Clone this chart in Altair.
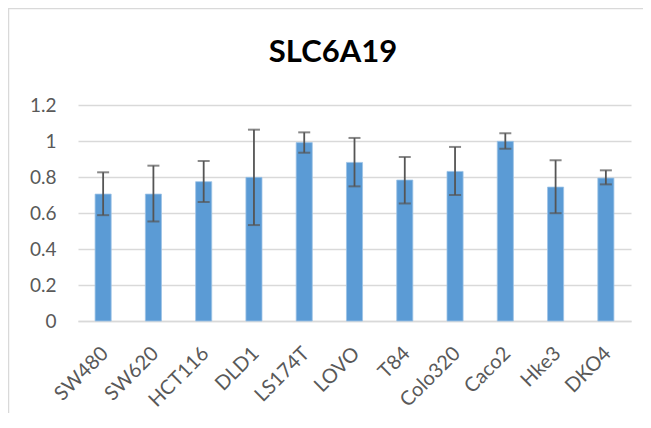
import altair as alt
import pandas as pd

# Data
cell_lines = ["SW480", "SW620", "HCT116", "DLD1", "LS174T", "LOVO", "T84",
              "Colo320", "Caco2", "Hke3", "DKO4"]
expression = [0.705, 0.705, 0.774, 0.798, 0.991, 0.881, 0.783, 0.831, 0.998, 0.744, 0.794]
err_low = [0.588, 0.553, 0.661, 0.533, 0.935, 0.748, 0.653, 0.700, 0.957, 0.599, 0.759]
err_high = [0.826, 0.863, 0.889, 1.063, 1.048, 1.017, 0.911, 0.967, 1.043, 0.893, 0.837]
y_ticks = [0, 0.2, 0.4, 0.6, 0.8, 1.0, 1.2]
title_text = "SLC6A19"

df = pd.DataFrame({"line": cell_lines, "value": expression,
                   "lo": err_low, "hi": err_high})

FONT = "Lato"
GREY = "#595959"
GRID = "#d9d9d9"

x_axis = alt.Axis(labelAngle=-45, labelFontSize=20, labelFont=FONT,
                  labelColor=GREY, ticks=False, domainColor=GRID,
                  domainWidth=1.5, labelPadding=22, labelOffset=-5,
                  labelOverlap=False, title=None)
x_scale = alt.Scale(paddingInner=0.68, paddingOuter=0.34)
y_axis = alt.Axis(values=y_ticks, format="~g", labelFontSize=19,
                  labelFont=FONT, labelColor=GREY, ticks=False,
                  domain=False, gridColor=GRID, gridWidth=1.5,
                  labelPadding=22, labelOverlap=False, title=None)
y_scale = alt.Scale(domain=[0, 1.2], nice=False)


def X():
    return alt.X("line:N", sort=cell_lines, scale=x_scale, axis=x_axis)


def Y(field):
    return alt.Y(field, type="quantitative", scale=y_scale, axis=y_axis)


bars = alt.Chart(df).mark_bar(color="#5b9bd5", stroke="#9dc3e6",
                              strokeWidth=0.8).encode(x=X(), y=Y("value"))

err = alt.Chart(df).mark_rule(color="#555555", strokeWidth=1.8).encode(
    x=X(), y=Y("lo"), y2="hi")

cap_hi = alt.Chart(df).mark_tick(color="#555555", size=12, thickness=2,
                                 orient="horizontal").encode(x=X(), y=Y("hi"))
cap_lo = alt.Chart(df).mark_tick(color="#555555", size=12, thickness=2,
                                 orient="horizontal").encode(x=X(), y=Y("lo"))

one = pd.DataFrame({"k": [0]})
title = alt.Chart(one).mark_text(font=FONT, fontSize=31, fontWeight="bold",
                                 color="black", align="center",
                                 baseline="alphabetic").encode(
    x=alt.value(255), y=alt.value(-43), text=alt.value(title_text))

border_left = alt.Chart(one).mark_rule(color=GRID, strokeWidth=1.5).encode(
    x=alt.value(-69.5), y=alt.value(-97), y2=alt.value(310))
border_top = alt.Chart(one).mark_rule(color=GRID, strokeWidth=1.5).encode(
    x=alt.value(-70), x2=alt.value(565), y=alt.value(-96.5))

chart = alt.layer(bars, err, cap_hi, cap_lo, title, border_left, border_top).properties(
    width=553, height=216,
    autosize=alt.AutoSizeParams(type="none"),
    padding={"left": 70, "top": 97, "right": 12, "bottom": 92},
).configure_view(stroke=None)

chart.save("out.html", embed_options={"renderer": "svg", "actions": False})
